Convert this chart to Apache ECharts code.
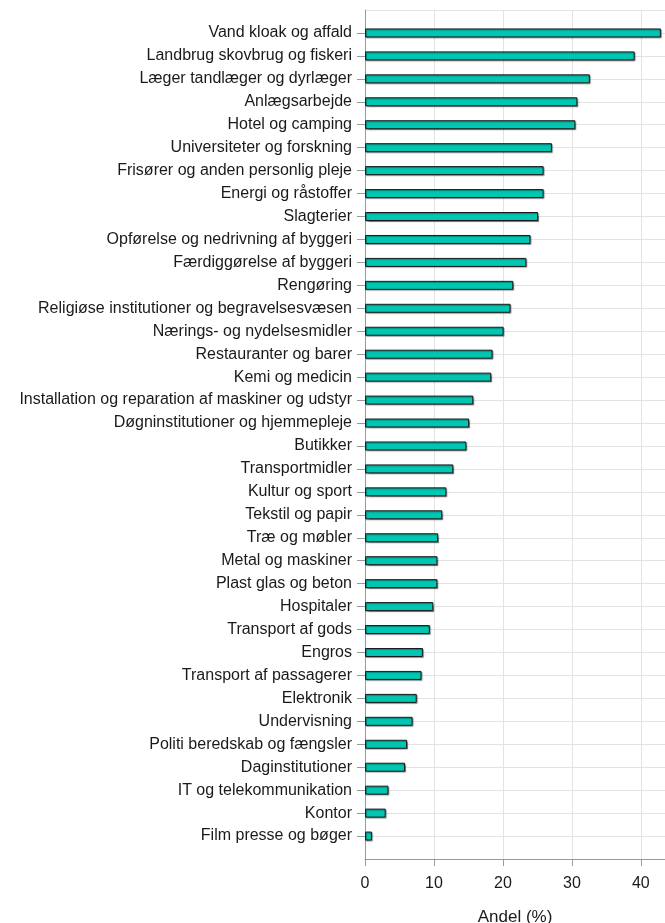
<!DOCTYPE html>
<html>
<head>
<meta charset="utf-8">
<script src="https://cdn.jsdelivr.net/npm/echarts@6/dist/echarts.min.js"></script>
<style>
  html, body { margin: 0; padding: 0; background: #fff; }
  #main { width: 665px; height: 923px; }
</style>
</head>
<body>
<div id="main"></div>
<script>
const categories = [
  'Vand kloak og affald',
  'Landbrug skovbrug og fiskeri',
  'Læger tandlæger og dyrlæger',
  'Anlægsarbejde',
  'Hotel og camping',
  'Universiteter og forskning',
  'Frisører og anden personlig pleje',
  'Energi og råstoffer',
  'Slagterier',
  'Opførelse og nedrivning af byggeri',
  'Færdiggørelse af byggeri',
  'Rengøring',
  'Religiøse institutioner og begravelsesvæsen',
  'Nærings- og nydelsesmidler',
  'Restauranter og barer',
  'Kemi og medicin',
  'Installation og reparation af maskiner og udstyr',
  'Døgninstitutioner og hjemmepleje',
  'Butikker',
  'Transportmidler',
  'Kultur og sport',
  'Tekstil og papir',
  'Træ og møbler',
  'Metal og maskiner',
  'Plast glas og beton',
  'Hospitaler',
  'Transport af gods',
  'Engros',
  'Transport af passagerer',
  'Elektronik',
  'Undervisning',
  'Politi beredskab og fængsler',
  'Daginstitutioner',
  'IT og telekommunikation',
  'Kontor',
  'Film presse og bøger'
];

const andel = [
  42.9, 39.1, 32.6, 30.8, 30.5, 27.1, 25.9, 25.9, 25.1, 24.0, 23.4, 21.5,
  21.1, 20.1, 18.5, 18.3, 15.7, 15.1, 14.7, 12.8, 11.8, 11.2, 10.6, 10.5,
  10.5, 9.9, 9.4, 8.4, 8.2, 7.5, 6.9, 6.1, 5.8, 3.4, 3.0, 1.0
];

const xTicks = [0, 10, 20, 30, 40];

// one empty slot above and below, like the original plot
const yCats = [''].concat(categories, ['']);
const yVals = [null].concat(andel, [null]);
const lastIdx = yCats.length - 1;
const inner = (i) => i > 0 && i < lastIdx;

const chart = echarts.init(document.getElementById('main'));

const option = {
  animation: false,
  textStyle: { fontFamily: 'Liberation Sans, Arial, sans-serif' },
  grid: { left: 365, right: 0, top: 10, bottom: 64, outerBoundsMode: 'none', containLabel: false },
  xAxis: {
    type: 'value',
    min: 0,
    max: 43.5,
    interval: 10,
    name: 'Andel (%)',
    nameLocation: 'middle',
    nameGap: 50,
    nameTextStyle: { fontSize: 17, color: '#1a1a1a' },
    axisLine: { show: true, lineStyle: { color: '#999', width: 1 } },
    axisTick: { show: true, length: 7, customValues: xTicks, lineStyle: { color: '#999' } },
    axisLabel: {
      fontSize: 16,
      color: '#1a1a1a',
      margin: 17,
      customValues: xTicks
    },
    splitLine: { show: true, lineStyle: { color: '#e3e3e3', width: 1 } }
  },
  yAxis: {
    type: 'category',
    inverse: true,
    boundaryGap: false,
    data: yCats,
    axisLine: { show: true, lineStyle: { color: '#999', width: 1 } },
    axisTick: {
      show: true,
      length: 8,
      interval: (i) => inner(i),
      lineStyle: { color: '#999' }
    },
    axisLabel: {
      interval: 0,
      fontSize: 16,
      color: '#1a1a1a',
      margin: 13
    },
    splitLine: {
      show: true,
      interval: 0,
      lineStyle: { color: '#e3e3e3', width: 1 }
    }
  },
  series: [
    {
      type: 'bar',
      data: yVals,
      barWidth: 9,
      itemStyle: {
        color: '#00c6b2',
        borderColor: '#1a1a1a',
        borderWidth: 1,
        shadowColor: 'rgba(0,0,0,0.35)',
        shadowOffsetX: 1,
        shadowOffsetY: 1,
        shadowBlur: 1
      }
    }
  ]
};

chart.setOption(option);
</script>
</body>
</html>
